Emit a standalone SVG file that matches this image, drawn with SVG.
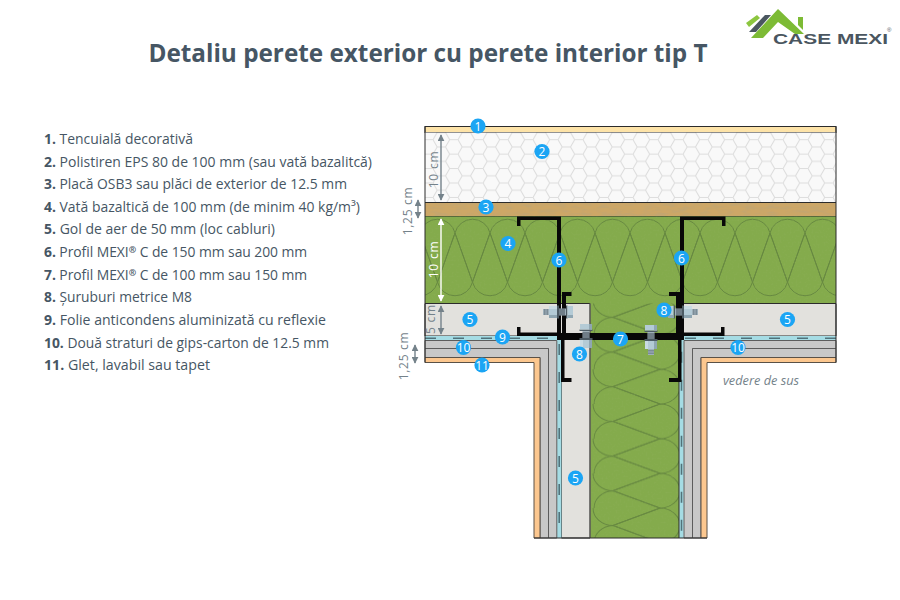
<svg xmlns="http://www.w3.org/2000/svg" width="900" height="600" viewBox="0 0 900 600">
<style>
.t{font-family:"Open Sans","Noto Sans","Liberation Sans",sans-serif;fill:#465664}
.li{font-size:14px}
.li tspan{font-weight:700}
.sup{font-size:9px;font-weight:400}
.tight{font-size:13.900px;letter-spacing:-.05px}
.dim{font-family:"Open Sans","Noto Sans",sans-serif;font-size:12px;fill:#74828a;letter-spacing:.7px}
.big{letter-spacing:.8px}
.lab circle{fill:#1ba5f4}
.lab text{font-family:"Open Sans","Noto Sans",sans-serif;font-size:12px;fill:#fff;text-anchor:middle}
.ln{stroke:#2b2b2b;stroke-width:1}
.gips{fill:#c8c8c8;stroke:#5c5c5c;stroke-width:1}
.pl{fill:#fcc78f;stroke:#5a5147;stroke-width:1}
.foil{fill:none;stroke:#a5dce4;stroke-width:4.6}
.foild{fill:none;stroke:#2f4650;stroke-width:1.6;stroke-dasharray:11 17;opacity:.7;filter:url(#soft)}
.pr{fill:#080808}
.d{fill:none;stroke:#74828a;stroke-width:1.4;marker-start:url(#ag);marker-end:url(#ag)}
.w{fill:none;stroke:#fff;stroke-width:1.4;marker-start:url(#aw);marker-end:url(#aw)}
</style>
<defs>
<marker id="ag" viewBox="0 0 10 10" refX="9" refY="5" markerWidth="7" markerHeight="7" orient="auto-start-reverse" markerUnits="userSpaceOnUse"><path d="M0 0L10 5L0 10Z" fill="#74828a"/></marker>
<marker id="aw" viewBox="0 0 10 10" refX="9" refY="5" markerWidth="7" markerHeight="7" orient="auto-start-reverse" markerUnits="userSpaceOnUse"><path d="M0 0L10 5L0 10Z" fill="#fff"/></marker>
<pattern id="hex" patternUnits="userSpaceOnUse" x="433" y="132.500" width="25" height="14.43">
<rect width="25" height="14.43" fill="#f9f9f9"/>
<path d="M0 7.2L4.2 0H12.5L16.7 7.2L12.5 14.43H4.2ZM16.7 7.2H25" fill="none" stroke="#dcdcdc" stroke-width="1"/>
</pattern>
<pattern id="wh" patternUnits="userSpaceOnUse" x="455" y="216" width="35" height="87">
<g fill="none" stroke="#668840" stroke-width="1">
<path d="M0 17L17.500 66A18 18 0 0 1 -17.500 66Z"/>
<path d="M35 17L52.500 66A18 18 0 0 1 17.500 66Z"/>
<path d="M17.500 66L0 17A18 18 0 0 1 35 17Z"/>
</g>
</pattern>
<pattern id="wv" patternUnits="userSpaceOnUse" x="590" y="404" width="89" height="34.7">
<g fill="none" stroke="#668840" stroke-width="1">
<path d="M70 0L23 17.35A20 17.35 0 0 1 23 -17.35Z"/>
<path d="M70 34.7L23 17.35A20 17.35 0 0 0 23 52Z"/>
<path d="M23 17.35L70 0A20 17.35 0 0 1 70 34.7Z"/>
</g>
</pattern>
<filter id="soft" x="-10%" y="-10%" width="120%" height="120%"><feGaussianBlur stdDeviation=".6"/></filter>
<filter id="grain" x="0" y="0" width="100%" height="100%">
<feTurbulence type="fractalNoise" baseFrequency=".5" numOctaves="2" seed="3"/>
<feColorMatrix values="0 0 0 0 .35 0 0 0 0 .48 0 0 0 0 .18 0 0 0 1.6 -.8"/>
<feComposite in2="SourceGraphic" operator="in"/>
</filter>
<filter id="osb" x="0" y="0" width="100%" height="100%">
<feTurbulence type="fractalNoise" baseFrequency=".09 .3" numOctaves="3" seed="8"/>
<feColorMatrix values="0 0 0 0 .55 0 0 0 0 .38 0 0 0 0 .16 0 0 0 3 -1.3"/>
<feComposite in2="SourceGraphic" operator="in"/>
</filter>
<g id="core">
<rect x="6" y="-6" width="8" height="12" fill="#b4cbd6"/>
<rect x="6" y="-6" width="8" height="3" fill="#c9dbe3"/>
<rect x="6" y="3" width="8" height="3" fill="#8fa6b2"/>
<rect x="14" y="-6.500" width="2" height="13" fill="#4c5a63"/>
<rect x="16" y="-3.500" width="7" height="7" fill="#9fb0ba"/>
<path d="M17 -3.500V3.500M19 -3.500V3.500M21 -3.500V3.500" stroke="#37424a" stroke-width=".9"/>
<rect x="23" y="-6.500" width="1.500" height="13" fill="#4c5a63"/>
<rect x="24.500" y="-6" width="5.500" height="12" fill="#b4cbd6"/>
<rect x="24.500" y="3" width="5.500" height="3" fill="#8fa6b2"/>
</g>
<g id="bolt">
<rect x="0" y="-3" width="6" height="6" fill="#9fb0ba"/>
<path d="M1.500 -3V3M3 -3V3M4.500 -3V3" stroke="#6d7c86" stroke-width=".7"/>
<use href="#core"/>
</g>
</defs>
<rect width="900" height="600" fill="#fff"/>

<g id="logo">
<path d="M746 23L757 15L760 18L749 27Z" fill="#8cc63f"/>
<path d="M749 32L765 15L771 15L756 32Z" fill="#4a5660"/>
<path d="M778 9L804 34H795L778 22L763 38H751Z" fill="#7dbb35"/>
<path d="M798 17H803V30L798 25Z" fill="#7dbb35"/>
<text x="773" y="43.500" font-family="'Liberation Sans',sans-serif" font-weight="700" font-size="14" fill="#4a5660" textLength="115" lengthAdjust="spacingAndGlyphs">CASE MEXI</text>
<text x="887" y="32" font-family="'Liberation Sans',sans-serif" font-size="6" fill="#4a5660">®</text>
</g>

<text x="428" y="62" class="t" font-size="24.300" font-weight="700" text-anchor="middle">Detaliu perete exterior cu perete interior tip T</text>

<g id="legend" class="t li">
<text x="44" y="144" textLength="149" lengthAdjust="spacingAndGlyphs"><tspan>1.</tspan> Tencuială decorativă</text>
<text x="44" y="166.500" textLength="328" lengthAdjust="spacingAndGlyphs"><tspan>2.</tspan> Polistiren EPS 80 de 100 mm (sau vată bazalitcă)</text>
<text x="44" y="189" textLength="303" lengthAdjust="spacingAndGlyphs"><tspan>3.</tspan> Placă OSB3 sau plăci de exterior de 12.5 mm</text>
<text x="44" y="211.500" textLength="316" lengthAdjust="spacingAndGlyphs"><tspan>4.</tspan> Vată bazaltică de 100 mm (de minim 40 kg/m³)</text>
<text x="44" y="234" textLength="231" lengthAdjust="spacingAndGlyphs"><tspan>5.</tspan> Gol de aer de 50 mm (loc cabluri)</text>
<text x="44" y="257" class="tight"><tspan>6.</tspan> Profil MEXI<tspan class="sup" dy="-4">®</tspan><tspan style="font-weight:400" dy="4"> C de 150 mm sau 200 mm</tspan></text>
<text x="44" y="279.500" class="tight"><tspan>7.</tspan> Profil MEXI<tspan class="sup" dy="-4">®</tspan><tspan style="font-weight:400" dy="4"> C de 100 mm sau 150 mm</tspan></text>
<text x="44" y="302" textLength="148" lengthAdjust="spacingAndGlyphs"><tspan>8.</tspan> Șuruburi metrice M8</text>
<text x="44" y="325" textLength="282" lengthAdjust="spacingAndGlyphs"><tspan>9.</tspan> Folie anticondens aluminizată cu reflexie</text>
<text x="44" y="347.500" textLength="285" lengthAdjust="spacingAndGlyphs"><tspan>10.</tspan> Două straturi de gips-carton de 12.5 mm</text>
<text x="44" y="370" textLength="166" lengthAdjust="spacingAndGlyphs"><tspan>11.</tspan> Glet, lavabil sau tapet</text>
</g>

<g id="section">
<rect x="425" y="126.500" width="411" height="6" fill="#fde3a8" class="ln"/>
<rect x="425" y="132.500" width="411" height="70" fill="url(#hex)"/>
<rect x="425" y="202.500" width="411" height="14" fill="#cda767"/>
<rect x="425" y="202.500" width="411" height="14" filter="url(#osb)"/>
<path d="M425 202.500H836M425 216.500H836" class="ln" fill="none"/>

<path d="M425 216.500H836V303.500H679V538H590V303.500H425Z" fill="#84ab4c"/>
<rect x="425" y="216.500" width="411" height="87" fill="url(#wh)"/>
<rect x="590" y="303.500" width="89" height="234.500" fill="#84ab4c"/>
<rect x="590" y="303.500" width="89" height="234.500" fill="url(#wv)"/>
<path d="M425 216.500H836V303.500H679V538H590V303.500H425Z" filter="url(#grain)" opacity=".25"/>

<path d="M425 303.500H590V538H561.500V336H425Z" fill="#e2e1dd" class="ln"/>
<path d="M836 303.500H683V336H836Z" fill="#e2e1dd" class="ln"/>
<path d="M590 303.500V538" stroke="#6c6c66" stroke-width="1.200"/>

<path d="M425 338.200H559.200V538" class="foil"/>
<path d="M425 338.200H559.200V538" class="foild"/>
<path d="M836 338.200H681.500V538" class="foil"/>
<path d="M836 338.200H681.500V538" class="foild"/>

<path d="M425 340.500H556.800V538H548.500V348.500H425Z" class="gips"/>
<path d="M425 348.500H548.500V538H540V357.500H425Z" class="gips"/>
<path d="M425 357.500H540V538H534V362.500H425Z" class="pl"/>
<path d="M836 340.500H684V538H692.500V348.500H836Z" class="gips"/>
<path d="M836 348.500H692.500V538H701V357.500H836Z" class="gips"/>
<path d="M836 357.500H701V538H707V362.500H836Z" class="pl"/>

<path d="M425 126.500V303.500M836 126.500V303.500M425 303.500V362.500M836 303.500V362.500M534 538H707M679 303.500V538" fill="none" class="ln"/>

<g id="profiles" class="pr">
<path d="M517 216.500H561V335H557V220H520.500V226H517Z"/>
<path d="M725.500 216.500H680V340H684V220H722V226H725.500Z"/>
<path d="M562 333V292H571.500V296H566V333Z"/>
<path d="M680 333V292H669V296H676V333Z"/>
<path d="M517 332.500H557V336H517V327H520.500V332.500Z"/>
<path d="M724.500 332.500H684V336H724.500V327H721V332.500Z"/>
<rect x="557" y="333" width="126" height="7"/>
<path d="M561 340H564.500V378H571.500V382H561Z"/>
<path d="M678 340H681.500V382H669V378H678Z"/>
</g>

<use href="#bolt" transform="translate(543 312)"/>
<use href="#bolt" transform="translate(698 312) scale(-1 1)"/>
<use href="#core" transform="translate(586 354) rotate(-90)"/>
<use href="#bolt" transform="translate(651 355) rotate(-90)"/>

<text x="723" y="385" font-family="'Open Sans','Noto Sans',sans-serif" font-size="12" font-style="italic" fill="#74828a" textLength="76" lengthAdjust="spacingAndGlyphs">vedere de sus</text>
</g>

<g id="connectors">
<path d="M441 135V200" class="d"/>
<path d="M418 200V218" class="d"/>
<path d="M441 219V301" class="w"/>
<path d="M441 306V334" class="d"/>
<path d="M415 345V363" class="d"/>
</g>
<g id="dimensions">
<text class="dim big" transform="translate(437.500 169.500) rotate(-90)" text-anchor="middle">10 cm</text>
<text class="dim" transform="translate(412 211) rotate(-90)" text-anchor="middle">1,25 cm</text>
<text class="dim big" transform="translate(437.500 259.500) rotate(-90)" text-anchor="middle" style="fill:#fff">10 cm</text>
<text class="dim big" transform="translate(434.500 319) rotate(-90)" text-anchor="middle">5 cm</text>
<text class="dim" transform="translate(408 356) rotate(-90)" text-anchor="middle">1,25 cm</text>
</g>

<g id="n1" class="lab"><circle cx="478" cy="126" r="7.600"/><text x="478" y="130.500">1</text></g>
<g id="n2" class="lab"><circle cx="542" cy="151.500" r="7.600"/><text x="542" y="156">2</text></g>
<g id="n3" class="lab"><circle cx="486" cy="207" r="7.600"/><text x="486" y="211.500">3</text></g>
<g id="n4" class="lab"><circle cx="508" cy="243.500" r="7.600"/><text x="508" y="248">4</text></g>
<g id="n5a" class="lab"><circle cx="470" cy="319.500" r="7.600"/><text x="470" y="324">5</text></g>
<g id="n5b" class="lab"><circle cx="787.500" cy="319.500" r="7.600"/><text x="787.500" y="324">5</text></g>
<g id="n5c" class="lab"><circle cx="575.500" cy="478" r="7.600"/><text x="575.500" y="482.500">5</text></g>
<g id="n6a" class="lab"><circle cx="559" cy="260" r="7.600"/><text x="559" y="264.500">6</text></g>
<g id="n6b" class="lab"><circle cx="681.500" cy="258" r="7.600"/><text x="681.500" y="262.500">6</text></g>
<g id="n7" class="lab"><circle cx="620.500" cy="339" r="7.600"/><text x="620.500" y="343.500">7</text></g>
<g id="n8a" class="lab"><circle cx="664" cy="310" r="7.600"/><text x="664" y="314.500">8</text></g>
<g id="n8b" class="lab"><circle cx="579.500" cy="354" r="7.600"/><text x="579.500" y="358.500">8</text></g>
<g id="n9" class="lab"><circle cx="502.500" cy="337" r="7.600"/><text x="502.500" y="341.500">9</text></g>
<g id="n10a" class="lab"><circle cx="463.500" cy="347.500" r="7.600"/><text x="463.500" y="352">10</text></g>
<g id="n10b" class="lab"><circle cx="738" cy="347.500" r="7.600"/><text x="738" y="352">10</text></g>
<g id="n11" class="lab"><circle cx="482" cy="365" r="7.600"/><text x="482" y="369.500">11</text></g>
</svg>
